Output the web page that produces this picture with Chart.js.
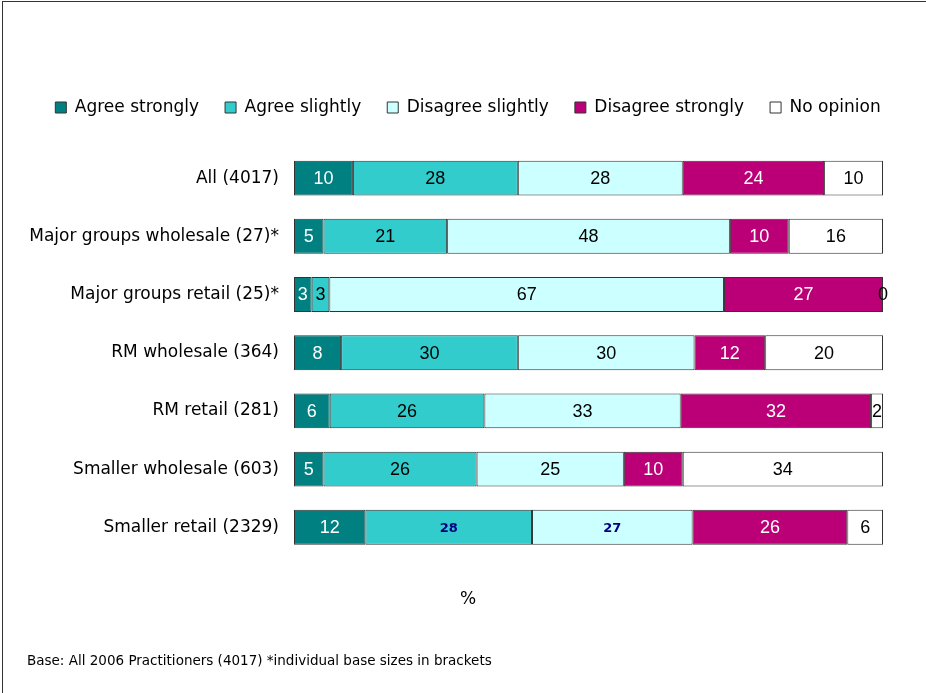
<!DOCTYPE html>
<html>
<head>
<meta charset="utf-8">
<title>Practitioner opinion by group</title>
<script src="https://cdn.jsdelivr.net/npm/chart.js@4/dist/chart.umd.min.js"></script>
<style>
  html, body { margin: 0; padding: 0; background: #ffffff; }
  #frame {
    position: absolute; left: 2px; top: 1px; width: 924px; height: 692px;
    border-top: 1px solid #333333; border-left: 1px solid #333333;
    box-sizing: border-box;
  }
  #c { position: absolute; left: 0; top: 0; }
</style>
</head>
<body>
<div id="frame"></div>
<canvas id="c" width="926" height="693"></canvas>
<script>
// Groups of practitioners (base sizes in brackets)
const categories = [
  'All (4017)',
  'Major groups wholesale (27)*',
  'Major groups retail (25)*',
  'RM wholesale (364)',
  'RM retail (281)',
  'Smaller wholesale (603)',
  'Smaller retail (2329)'
];

// Percentages per answer
const agreeStrongly    = [10, 5, 3, 8, 6, 5, 12];
const agreeSlightly    = [28, 21, 3, 30, 26, 26, 28];
const disagreeSlightly = [28, 48, 67, 30, 33, 25, 27];
const disagreeStrongly = [24, 10, 27, 12, 32, 10, 26];
const noOpinion        = [10, 16, 0, 20, 2, 34, 6];

const seriesNames = ['Agree strongly', 'Agree slightly', 'Disagree slightly', 'Disagree strongly', 'No opinion'];
const seriesValues = [agreeStrongly, agreeSlightly, disagreeSlightly, disagreeStrongly, noOpinion];

const fillColours  = ['#008080', '#33CCCC', '#CCFFFF', '#BB0077', '#FFFFFF'];
const labelColours = ['#FFFFFF', '#000000', '#000000', '#FFFFFF', '#000000'];
// bars whose value label is set in bold navy (series index -> row indexes)
const boldLabels = { 1: [6], 2: [6] };

// each row is drawn as a 100% stacked bar
const rowTotals = categories.map((_, i) => seriesValues.reduce((s, arr) => s + arr[i], 0));

const datasets = seriesNames.map((name, si) => ({
  label: name,
  data: seriesValues[si].map((v, i) => v / rowTotals[i] * 100),
  rawValues: seriesValues[si],
  labelColour: labelColours[si],
  boldRows: boldLabels[si] || [],
  backgroundColor: fillColours[si],
  borderColor: '#333333',
  borderWidth: 1,
  borderSkipped: false,
  barPercentage: 0.6,
  categoryPercentage: 1.0
}));

// writes each segment's percentage in the middle of the segment
const segmentLabels = {
  id: 'segmentLabels',
  afterDatasetsDraw(chart) {
    const ctx = chart.ctx;
    chart.data.datasets.forEach((ds, di) => {
      const meta = chart.getDatasetMeta(di);
      meta.data.forEach((bar, i) => {
        const bold = ds.boldRows.includes(i);
        ctx.save();
        ctx.font = bold ? 'bold 13px "DejaVu Sans"' : '18px "Liberation Sans"';
        ctx.fillStyle = bold ? '#000080' : ds.labelColour;
        ctx.textAlign = 'center';
        ctx.textBaseline = 'middle';
        ctx.fillText(String(ds.rawValues[i]), (bar.x + bar.base) / 2, bar.y + 1);
        ctx.restore();
      });
    });
  }
};

const fontFamily = '"DejaVu Sans", Verdana, sans-serif';
const hidden = { display: false };

new Chart(document.getElementById('c'), {
  type: 'bar',
  data: { labels: categories, datasets },
  plugins: [segmentLabels],
  options: {
    indexAxis: 'y',
    responsive: false,
    animation: false,
    layout: { padding: { left: 27, right: 17, top: 73, bottom: 0 } },
    scales: {
      x: {
        stacked: true, min: 0, max: 100,
        position: 'top',
        ticks: hidden, grid: hidden, border: hidden,
        afterFit(scale) { scale.height = 23; }
      },
      y: {
        stacked: true,
        grid: { display: false, drawTicks: false },
        border: { display: false },
        ticks: { color: '#000000', font: { family: fontFamily, size: 17 }, padding: 15 },
        afterFit(scale) { scale.width = 267; }
      },
      // empty margin to the right of the bars
      yRight: {
        type: 'category',
        position: 'right',
        ticks: hidden, grid: hidden, border: hidden,
        afterFit(scale) { scale.width = 26; }
      }
    },
    plugins: {
      tooltip: { enabled: false },
      legend: {
        position: 'top',
        labels: {
          boxWidth: 11, boxHeight: 11, padding: 26,
          color: '#000000', font: { family: fontFamily, size: 17 }
        }
      },
      subtitle: {
        display: true, position: 'bottom', text: '%',
        color: '#000000',
        font: { family: fontFamily, size: 17, weight: 'normal' },
        padding: { top: 33, bottom: 20 }
      },
      title: {
        display: true, position: 'bottom', align: 'start',
        text: 'Base: All 2006 Practitioners (4017) *individual base sizes in brackets',
        color: '#000000',
        font: { family: fontFamily, size: 13.5, weight: 'normal' },
        padding: { top: 24, bottom: 23 }
      }
    }
  }
});
</script>
</body>
</html>
